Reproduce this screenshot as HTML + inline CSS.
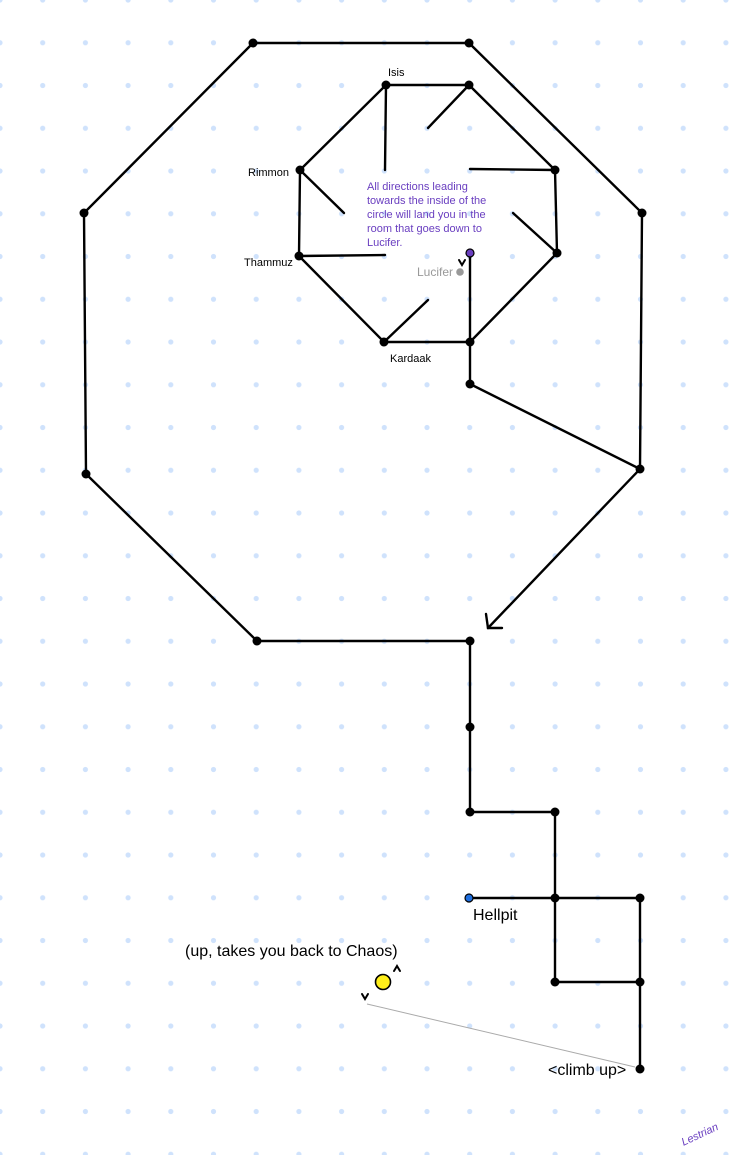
<!DOCTYPE html>
<html><head><meta charset="utf-8"><style>
html,body{margin:0;padding:0;background:#fff;}
svg{display:block;}
text{font-family:"Liberation Sans",sans-serif;}
</style></head><body>
<svg width="730" height="1155" viewBox="0 0 730 1155" xmlns="http://www.w3.org/2000/svg">
<defs>
<pattern id="g" x="0" y="0" width="42.7" height="42.75" patternUnits="userSpaceOnUse">
<circle cx="0" cy="0" r="2.6" fill="#cfe2fc"/><circle cx="42.7" cy="0" r="2.6" fill="#cfe2fc"/>
<circle cx="0" cy="42.75" r="2.6" fill="#cfe2fc"/><circle cx="42.7" cy="42.75" r="2.6" fill="#cfe2fc"/>
</pattern>
</defs>
<rect width="730" height="1155" fill="url(#g)"/>
<g stroke="#000" stroke-width="2.4" fill="none" stroke-linecap="round">
<polyline points="640,469 470,384 470,342"/>
<polyline points="470,641 257,641 86,474 84,213 253,43 469,43 642,213 640,469 488,628"/>
<polyline points="486,614 488,628 502,628"/>
<polygon points="386,85 469,85 555,170 557,253 470,342 384,342 299,256 300,170"/>
<line x1="386" y1="85" x2="385" y2="170"/>
<line x1="469" y1="85" x2="428" y2="128"/>
<line x1="555" y1="170" x2="470" y2="169"/>
<line x1="557" y1="253" x2="513" y2="213"/>
<line x1="384" y1="342" x2="428" y2="300"/>
<line x1="299" y1="256" x2="385" y2="255"/>
<line x1="300" y1="170" x2="344" y2="213"/>
<line x1="470" y1="253" x2="470" y2="342"/>
<polyline points="470,641 470,727 470,812 555,812 555,898"/>
<polyline points="469,898 555,898 640,898 640,982 640,1069"/>
<polyline points="555,898 555,982 640,982"/>
<polyline points="459,260 462,265 465,260" stroke-width="2"/>
<polyline points="394,971 397,966 400,971" stroke-width="2"/>
<polyline points="362,994 365,999 368,994" stroke-width="2"/>
</g>
<line x1="367" y1="1004" x2="635" y2="1067" stroke="#aaa" stroke-width="1"/>
<g fill="#000">
<circle cx="253" cy="43" r="4.5"/><circle cx="469" cy="43" r="4.5"/><circle cx="642" cy="213" r="4.5"/>
<circle cx="640" cy="469" r="4.5"/><circle cx="84" cy="213" r="4.5"/><circle cx="86" cy="474" r="4.5"/>
<circle cx="257" cy="641" r="4.5"/><circle cx="470" cy="641" r="4.5"/><circle cx="470" cy="384" r="4.5"/>
<circle cx="386" cy="85" r="4.5"/><circle cx="469" cy="85" r="4.5"/><circle cx="555" cy="170" r="4.5"/>
<circle cx="557" cy="253" r="4.5"/><circle cx="470" cy="342" r="4.5"/><circle cx="384" cy="342" r="4.5"/>
<circle cx="299" cy="256" r="4.5"/><circle cx="300" cy="170" r="4.5"/>
<circle cx="470" cy="727" r="4.5"/><circle cx="470" cy="812" r="4.5"/><circle cx="555" cy="812" r="4.5"/>
<circle cx="555" cy="898" r="4.5"/><circle cx="640" cy="898" r="4.5"/><circle cx="555" cy="982" r="4.5"/>
<circle cx="640" cy="982" r="4.5"/><circle cx="640" cy="1069" r="4.5"/>
</g>
<circle cx="470" cy="253" r="4" fill="#6a3fc0" stroke="#000" stroke-width="1.2"/>
<circle cx="460" cy="272" r="3.8" fill="#999"/>
<circle cx="469" cy="898" r="4" fill="#1f6fe0" stroke="#000" stroke-width="1.2"/>
<circle cx="383" cy="982" r="7.5" fill="#ffef1a" stroke="#000" stroke-width="1.6"/>
<g font-size="11" fill="#000">
<text x="388" y="76">Isis</text>
<text x="248" y="176">Rimmon</text>
<text x="244" y="266">Thammuz</text>
<text x="390" y="362">Kardaak</text>
</g>
<text x="417" y="276" font-size="12" fill="#999">Lucifer</text>
<g font-size="11" fill="#6a3fc0">
<text x="367" y="190">All directions leading</text>
<text x="367" y="204">towards the inside of the</text>
<text x="367" y="218">circle will land you in the</text>
<text x="367" y="232">room that goes down to</text>
<text x="367" y="246">Lucifer.</text>
</g>
<g font-size="16" fill="#000">
<text x="473" y="920">Hellpit</text>
<text x="185" y="956">(up, takes you back to Chaos)</text>
<text x="548" y="1075">&lt;climb up&gt;</text>
</g>
<text x="680" y="1140" font-size="11" fill="#6a3fc0" font-style="italic" transform="rotate(-25 695 1135)">Lestrian</text>
</svg>
</body></html>
